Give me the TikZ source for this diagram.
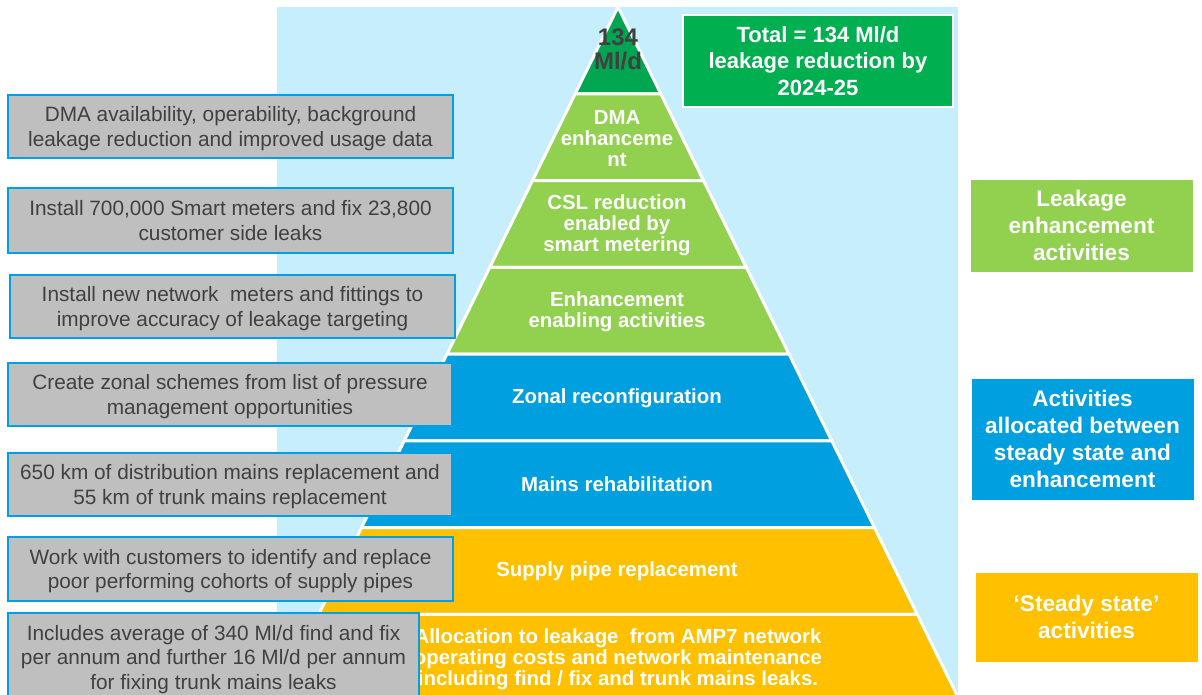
\documentclass[tikz,border=0pt]{standalone}
\usepackage{fontspec}
\setmainfont{Liberation Sans}
\definecolor{skyback}{HTML}{C6EEFD}
\definecolor{apexgreen}{HTML}{00A651}
\definecolor{leafgreen}{HTML}{92D050}
\definecolor{midblue}{HTML}{009FDF}
\definecolor{amber}{HTML}{FFC000}
\definecolor{boxgray}{HTML}{BFBFBF}
\definecolor{edgeblue}{HTML}{00A0E6}
\definecolor{inkgray}{HTML}{404040}
\definecolor{totalgreen}{HTML}{00B050}
\begin{document}
\begin{tikzpicture}[x=1pt,y=-1pt,
  sidebox/.style={draw=edgeblue, fill=boxgray, line width=2pt, text=inkgray,
    font=\fontsize{20.8}{24.5}\selectfont, align=center, inner sep=0pt,
    text depth=-1pt},
  layertext/.style={text=white, font=\bfseries\fontsize{20.4}{21}\selectfont,
    align=center, inner sep=0pt},
  keybox/.style={draw=white, line width=1pt, text=white,
    font=\bfseries\fontsize{22.6}{27}\selectfont, align=center, inner sep=0pt,
    minimum width=223pt}]
\useasboundingbox (0,0) rectangle (1202,694);
\clip (0,0) rectangle (1202,694);

% light blue panel behind the pyramid
\fill[skyback] (277,7) rectangle (958,700);

% pyramid: eight bands of equal height, apex at (618,7)
\foreach \k/\col in {0/apexgreen,1/leafgreen,2/leafgreen,3/leafgreen,
                     4/midblue,5/midblue,6/amber,7/amber} {
  \pgfmathsetmacro\ya{7+86.75*\k}
  \pgfmathsetmacro\yb{7+86.75*(\k+1)}
  \pgfmathsetmacro\ha{0.4927*(\ya-7)}
  \pgfmathsetmacro\hb{0.4927*(\yb-7)}
  \filldraw[fill=\col, draw=white, line width=3pt, line join=round]
    (618-\ha,\ya) -- (618+\ha,\ya) -- (618+\hb,\yb) -- (618-\hb,\yb) -- cycle;
}

% band labels
\node[text=inkgray, font=\bfseries\fontsize{24}{24}\selectfont, align=center,
  inner sep=0pt] (apex) at (618,49) {134\\Ml/d};
\node[layertext] (dma) at (617,138.5) {DMA\\enhanceme\\nt};
\node[layertext] (csl) at (617,225.5) {CSL reduction\\enabled by\\smart metering};
\node[layertext] (enab) at (617,311.5) {Enhancement\\enabling activities};
\node[layertext] (zonal) at (617,398) {Zonal reconfiguration};
\node[layertext] (mains) at (617,484.5) {Mains rehabilitation};
\node[layertext] (supply) at (617,571.5) {Supply pipe replacement};
\node[layertext] (alloc) at (618,659) {Allocation to leakage\ \ from AMP7 network\\operating costs and network maintenance\\including find / fix and trunk mains leaks.};

% total box
\node[draw=white, line width=2pt, fill=totalgreen, text=white,
  font=\bfseries\fontsize{22}{26.5}\selectfont, align=center, inner sep=0pt,
  minimum width=270pt, minimum height=92pt] (total) at (818,61)
  {Total = 134 Ml/d\\leakage reduction by\\2024-25};

% description boxes on the left
\node[sidebox, minimum width=445pt, minimum height=63pt] (d1) at (230.5,126.5)
  {DMA availability, operability, background\\leakage reduction and improved usage data};
\node[sidebox, minimum width=445pt, minimum height=65pt] (d2) at (230.5,220.5)
  {Install 700,000 Smart meters and fix 23,800\\customer side leaks};
\node[sidebox, minimum width=445pt, minimum height=63pt] (d3) at (232.5,306.5)
  {Install new network\ \ meters and fittings to\\improve accuracy of leakage targeting};
\node[sidebox, minimum width=444pt, minimum height=63pt] (d4) at (230,394.5)
  {Create zonal schemes from list of pressure\\management opportunities};
\node[sidebox, minimum width=444pt, minimum height=63pt] (d5) at (230,484.5)
  {650 km of distribution mains replacement and\\55 km of trunk mains replacement};
\node[sidebox, minimum width=445pt, minimum height=64pt] (d6) at (230.5,569)
  {Work with customers to identify and replace\\poor performing cohorts of supply pipes};
\node[sidebox, minimum width=411pt, minimum height=88pt] (d7) at (213.5,657)
  {Includes average of 340 Ml/d find and fix\\per annum and further 16 Ml/d per annum\\for fixing trunk mains leaks};

% key boxes on the right
\node[keybox, fill=leafgreen, minimum height=93pt] (k1) at (1081.5,225.5)
  {Leakage\\enhancement\\activities};
\node[keybox, fill=midblue, minimum height=122pt] (k2) at (1082.5,439)
  {Activities\\allocated between\\steady state and\\enhancement};
\node[keybox, fill=amber, minimum height=90pt] (k3) at (1086.5,617)
  {`Steady state'\\activities};
\end{tikzpicture}
\end{document}
